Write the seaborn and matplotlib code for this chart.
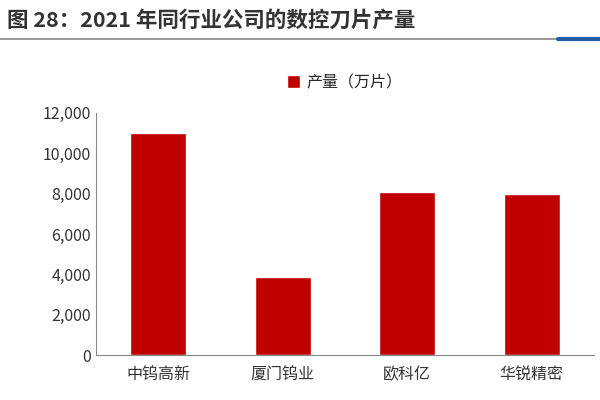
import matplotlib
matplotlib.use("Agg")
import matplotlib.pyplot as plt
import seaborn as sns
import pandas as pd
from matplotlib.lines import Line2D

companies = ["中钨高新", "厦门钨业", "欧科亿", "华锐精密"]
output = [11000, 3850, 8100, 8000]
title = "图 28：2021 年同行业公司的数控刀片产量"
series_name = "产量（万片）"

sns.set_style("white")
plt.rcParams['font.family'] = ['Noto Sans CJK SC', 'DejaVu Sans']

df = pd.DataFrame({"company": companies, "value": output})

fig = plt.figure(figsize=(6, 4), dpi=100)
ax = fig.add_axes([0.16, 0.112, 0.83, 0.606])
sns.barplot(data=df, x="company", y="value", color="#C00000", width=0.45,
            saturation=1, ax=ax, label=series_name)

ax.set_ylim(0, 12000)
ax.set_yticks(range(0, 12001, 2000))
ax.set_yticklabels([f"{v:,}" for v in range(0, 12001, 2000)], fontsize=11.5, color="#333333")
ax.tick_params(axis="x", labelsize=11.5, colors="#333333", length=0, pad=8)
ax.tick_params(axis="y", length=0)
ax.set_xlabel("")
ax.set_ylabel("")
for s in ["top", "right"]:
    ax.spines[s].set_visible(False)
for s in ["left", "bottom"]:
    ax.spines[s].set_color("#888888")
    ax.spines[s].set_linewidth(0.8)

ax.legend(loc="lower center", bbox_to_anchor=(0.5, 1.03), frameon=False,
          fontsize=11.5, handlelength=0.8, handleheight=0.8, handletextpad=0.4)

fig.text(0.012, 0.975, title, fontsize=15.5, fontweight="bold", color="#333333",
         ha="left", va="top")
fig.add_artist(Line2D([0.0, 0.93], [0.902, 0.902], color="#888888", lw=1.2))
fig.add_artist(Line2D([0.93, 1.0], [0.902, 0.902], color="#1F5FA8", lw=3))

fig.savefig("out.png", dpi=100)
